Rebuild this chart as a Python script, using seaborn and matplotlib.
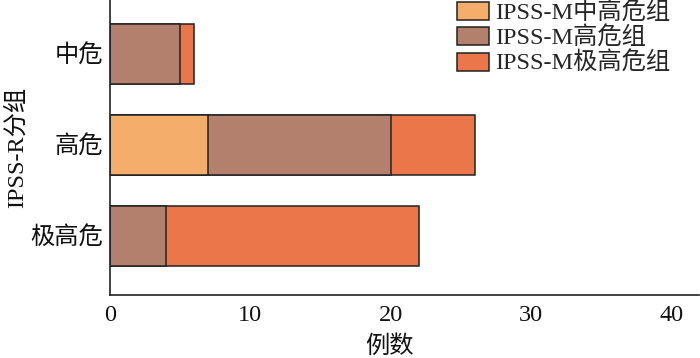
import numpy as np
import pandas as pd
import matplotlib
matplotlib.use("Agg")
import matplotlib.pyplot as plt
import seaborn as sns
from matplotlib.patches import Patch

categories = ["中危", "高危", "极高危"]
series_names = ["IPSS-M中高危组", "IPSS-M高危组", "IPSS-M极高危组"]
mid_high = [0, 7, 0]
high = [5, 13, 4]
very_high = [1, 6, 18]
colors = ["#F5AD6B", "#B4806E", "#EB764A"]
x_ticks = [0, 10, 20, 30, 40]

sns.set_theme(style="white")
plt.rcParams["font.family"] = ["Liberation Serif", "Noto Sans CJK SC"]

FS = 17.5
fig = plt.figure(figsize=(7.0, 3.58), dpi=100)
ax = fig.add_axes([110/700, 63/358, 1 - 110/700 - 0.001, 295/358])

vals = [np.array(mid_high), np.array(high), np.array(very_high)]
cums = np.cumsum(vals, axis=0)
for i in [2, 1, 0]:
    df = pd.DataFrame({"cat": categories, "val": cums[i]})
    sns.barplot(data=df, x="val", y="cat", order=categories, orient="h",
                color=colors[i], saturation=1, width=0.66,
                edgecolor="#222222", linewidth=1.1, ax=ax)

ax.set_xlim(0, 42)
ax.set_ylim(2.65, -0.59)
ax.set_xticks(x_ticks)
ax.set_xticklabels([str(t) for t in x_ticks])
ax.tick_params(axis="x", direction="in", length=7, width=1.2, color="#222222",
               labelsize=FS, pad=7, labelcolor="#111111")
ax.tick_params(axis="y", length=0, labelsize=FS, pad=5, labelcolor="#111111")
ax.set_xlabel("例数", fontsize=FS, color="#111111", va="bottom")
ax.xaxis.set_label_coords((390 - 110) / 590, -63 / 295)
ax.set_ylabel("IPSS-R分组", fontsize=FS, labelpad=2, color="#111111")
for s in ["top", "right"]:
    ax.spines[s].set_visible(False)
for s in ["left", "bottom"]:
    ax.spines[s].set_color("#222222")
    ax.spines[s].set_linewidth(1.2)

handles = [Patch(facecolor=c, edgecolor="#222222", linewidth=1.1) for c in colors]
ax.legend(handles, series_names, loc="upper right", bbox_to_anchor=(0.975, 1.045),
          frameon=False, fontsize=FS, handlelength=1.3, handleheight=0.75,
          handletextpad=0.25, labelspacing=0.1, borderaxespad=0.2)

fig.savefig("out.png", dpi=100)
